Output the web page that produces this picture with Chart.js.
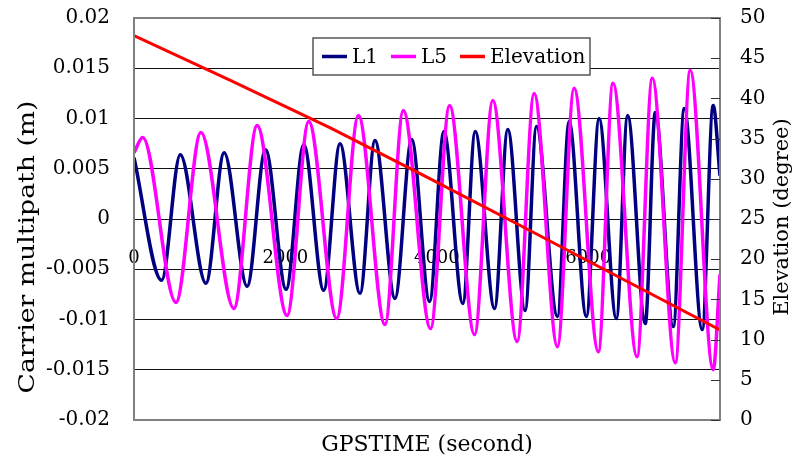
<!DOCTYPE html>
<html>
<head>
<meta charset="utf-8">
<script src="https://cdn.jsdelivr.net/npm/chart.js@4.4.1/dist/chart.umd.min.js"></script>
<style>
  html, body { margin: 0; padding: 0; background: #fff; }
  #wrap { width: 795px; height: 464px; }
</style>
</head>
<body>
<div id="wrap"><canvas id="chart"></canvas></div>
<script>
// values (peaks and troughs of each trace)
const l1Seconds = [0, 365, 611, 950, 1191, 1494, 1737, 2009, 2242, 2506, 2721, 2985, 3183, 3447, 3667, 3904, 4093, 4343, 4507, 4762,
  4937, 5166, 5316, 5593, 5747, 5975, 6143, 6371, 6520, 6753, 6885, 7123, 7268, 7505, 7650, 7740];
const l1Values = [0.0061, -0.0061, 0.0064, -0.0064, 0.0066, -0.0067, 0.0069, -0.0070, 0.0074, -0.0071, 0.0075, -0.0074, 0.0078, -0.0079, 0.0079, -0.0082, 0.0087, -0.0084, 0.0087, -0.0089,
  0.0089, -0.0091, 0.0092, -0.0097, 0.0097, -0.0097, 0.0100, -0.0099, 0.0103, -0.0104, 0.0106, -0.0107, 0.0110, -0.0110, 0.0113, 0.0043];

const l5Seconds = [0, 115, 554, 884, 1319, 1626, 2022, 2308, 2678, 2964, 3315, 3557, 3917, 4168, 4498, 4739, 5061, 5285, 5593, 5813,
  6133, 6327, 6644, 6846, 7149, 7347, 7650, 7740];
const l5Values = [0.0066, 0.0081, -0.0083, 0.0086, -0.0089, 0.0093, -0.0096, 0.0097, -0.0099, 0.0103, -0.0105, 0.0108, -0.0109, 0.0113, -0.0115, 0.0118, -0.0122, 0.0125, -0.0127, 0.0130,
  -0.0132, 0.0135, -0.0137, 0.0140, -0.0143, 0.0148, -0.0150, -0.0055];

const elevSeconds = [0, 1280, 2600, 3850, 5140, 6440, 7740];
const elevDegrees = [47.8, 42.2, 36.3, 30.3, 24.0, 17.6, 11.2];

const xTicks = [0, 2000, 4000, 6000];
const xTickLabels = ['0', '2000', '4000', '6000'];
const leftTicks = [-0.02, -0.015, -0.01, -0.005, 0, 0.005, 0.01, 0.015, 0.02];
const leftTickLabels = ['-0.02', '-0.015', '-0.01', '-0.005', '0', '0.005', '0.01', '0.015', '0.02'];
const rightTicks = [0, 5, 10, 15, 20, 25, 30, 35, 40, 45, 50];
const rightTickLabels = ['0', '5', '10', '15', '20', '25', '30', '35', '40', '45', '50'];

const serif = "'DejaVu Serif', serif";

function toPoints(xs, ys) {
  return xs.map(function (x, i) { return { x: x, y: ys[i] }; });
}

// fixed axis width, and don't let tick padding push the plot down
function fixWidth(w) {
  return function (scale) {
    scale.width = w;
    scale.paddingTop = 12;
    scale.paddingBottom = 12;
  };
}

// frame, inner ticks, legend box and axis titles
const overlay = {
  id: 'overlay',
  afterDraw(chart) {
    const ctx = chart.ctx;
    const a = chart.chartArea;
    const y2 = chart.scales.y2;
    ctx.save();

    ctx.strokeStyle = '#808080';
    ctx.lineWidth = 2;
    ctx.strokeRect(a.left, a.top, a.right - a.left, a.bottom - a.top);

    ctx.strokeStyle = '#333';
    ctx.lineWidth = 1;
    rightTicks.forEach(function (v) {
      const py = Math.round(y2.getPixelForValue(v)) + 0.5;
      ctx.beginPath();
      ctx.moveTo(a.right - 9, py);
      ctx.lineTo(a.right, py);
      ctx.stroke();
    });

    // legend
    const bx = a.left + 179, by = a.top + 20, bw = 277, bh = 37;
    ctx.fillStyle = '#fff';
    ctx.fillRect(bx, by, bw, bh);
    ctx.strokeStyle = '#555';
    ctx.lineWidth = 1.5;
    ctx.strokeRect(bx, by, bw, bh);
    ctx.font = '20px ' + serif;
    ctx.textBaseline = 'middle';
    ctx.textAlign = 'left';
    let lx = bx + 9;
    const ly = by + bh / 2;
    chart.data.datasets.forEach(function (ds) {
      ctx.strokeStyle = ds.borderColor;
      ctx.lineWidth = 3.5;
      ctx.beginPath();
      ctx.moveTo(lx, ly);
      ctx.lineTo(lx + 25, ly);
      ctx.stroke();
      ctx.fillStyle = '#000';
      ctx.fillText(ds.label, lx + 30, ly + 1);
      lx += 30 + ctx.measureText(ds.label).width + 13;
    });

    // axis titles
    ctx.fillStyle = '#000';
    ctx.textAlign = 'center';
    ctx.font = '22px ' + serif;
    ctx.fillText('GPSTIME (second)', (a.left + a.right) / 2, 445);

    ctx.save();
    ctx.translate(28, 247);
    ctx.rotate(-Math.PI / 2);
    const leftTitle = 'Carrier multipath (m)';
    const w = ctx.measureText(leftTitle).width;
    ctx.scale(293 / w, 1);
    ctx.fillText(leftTitle, 0, 0);
    ctx.restore();

    ctx.save();
    ctx.translate(783, 217);
    ctx.rotate(-Math.PI / 2);
    ctx.font = '21px ' + serif;
    ctx.fillText('Elevation (degree)', 0, 0);
    ctx.restore();

    ctx.restore();
  }
};

const ctx = document.getElementById('chart').getContext('2d');
const myChart = new Chart(ctx, {
  type: 'line',
  data: {
    datasets: [
      {
        label: 'L1',
        data: toPoints(l1Seconds, l1Values),
        borderColor: '#000080',
        borderWidth: 3.5,
        pointRadius: 0,
        cubicInterpolationMode: 'monotone',
        yAxisID: 'y',
        order: 3,
      },
      {
        label: 'L5',
        data: toPoints(l5Seconds, l5Values),
        borderColor: '#ff00ff',
        borderWidth: 3.5,
        pointRadius: 0,
        cubicInterpolationMode: 'monotone',
        yAxisID: 'y',
        order: 2,
      },
      {
        label: 'Elevation',
        data: toPoints(elevSeconds, elevDegrees),
        borderColor: '#ff0000',
        borderWidth: 3,
        pointRadius: 0,
        tension: 0,
        yAxisID: 'y2',
        order: 1,
      },
    ],
  },
  options: {
    responsive: true,
    maintainAspectRatio: false,
    animation: false,
    layout: { padding: { top: 18, bottom: 44, left: 0, right: 0 } },
    plugins: {
      legend: { display: false },
      tooltip: { enabled: false },
    },
    scales: {
      x: {
        type: 'linear',
        position: { y: 0 },
        min: 0,
        max: 7740,
        afterBuildTicks: function (scale) {
          scale.ticks = xTicks.map(function (v) { return { value: v }; });
        },
        afterFit: function (scale) { scale.height = 0; },
        grid: { display: false },
        border: { display: false },
        ticks: {
          color: '#000',
          font: { family: serif, size: 18 },
          padding: 21,
          maxRotation: 0,
          autoSkip: false,
          callback: function (v, i) { return xTickLabels[i]; },
        },
      },
      y: {
        position: 'left',
        min: -0.02,
        max: 0.02,
        afterBuildTicks: function (scale) {
          scale.ticks = leftTicks.map(function (v) { return { value: v }; });
        },
        afterFit: fixWidth(134),
        grid: { color: '#111', lineWidth: 1, drawTicks: false },
        border: { display: false },
        ticks: {
          color: '#000',
          font: { family: serif, size: 20 },
          padding: 24,
          autoSkip: false,
          callback: function (v, i) { return leftTickLabels[i]; },
        },
      },
      y2: {
        position: 'right',
        min: 0,
        max: 50,
        afterBuildTicks: function (scale) {
          scale.ticks = rightTicks.map(function (v) { return { value: v }; });
        },
        afterFit: fixWidth(75),
        grid: { drawOnChartArea: false, drawTicks: false },
        border: { display: false },
        ticks: {
          color: '#000',
          font: { family: serif, size: 20 },
          padding: 20,
          autoSkip: false,
          callback: function (v, i) { return rightTickLabels[i]; },
        },
      },
    },
  },
  plugins: [overlay],
});
</script>
</body>
</html>
